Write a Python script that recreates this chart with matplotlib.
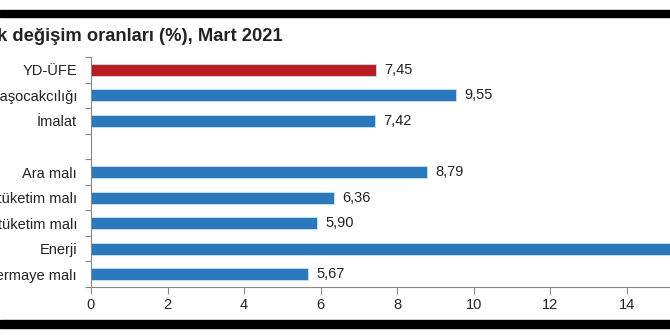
import numpy as np
import matplotlib
matplotlib.use("Agg")
import matplotlib.pyplot as plt
from matplotlib.patches import Rectangle

# data
categories = ["YD-ÜFE", "Madencilik ve taşocakcılığı", "İmalat", "",
              "Ara malı", "Dayanıklı tüketim malı", "Dayanıksız tüketim malı",
              "Enerji", "Sermaye malı"]
values = [7.45, 9.55, 7.42, np.nan, 8.79, 6.36, 5.90, 19.60, 5.67]
bar_colors = ["#B91C22", "#2C78BD", "#2C78BD", "#2C78BD", "#2C78BD",
              "#2C78BD", "#2C78BD", "#2C78BD", "#2C78BD"]
xticks = [0, 2, 4, 6, 8, 10, 12, 14, 16, 18, 20]
title = ("Sanayi sektörleri ve ana sanayi gruplarına göre YD-ÜFE yıllık "
         "değişim oranları (%), Mart 2021")

plt.rcParams['font.family'] = ['Liberation Sans', 'DejaVu Sans']

W, H = 670, 335
fig = plt.figure(figsize=(W / 100, H / 100), dpi=100)

# axes placed so that the left labels and the right end are cut off
px_per_unit = 38.26
x0 = 91
xmax = 20
ax = fig.add_axes([x0 / W, (H - 287) / H, xmax * px_per_unit / W, 230 / H])

y = np.arange(len(categories))
ax.barh(y, np.nan_to_num(values), height=0.47, color=bar_colors,
        edgecolor="#BFE3F5", linewidth=0.6)
for yi, v in zip(y, values):
    if np.isnan(v):
        continue
    ax.annotate(f"{v:.2f}".replace(".", ","), (v, yi), xytext=(6, 0),
                textcoords="offset points", va="center", ha="left",
                fontsize=10.5, color="#222222")

ax.set_ylim(len(categories) - 0.5, -0.5)
ax.set_xlim(0, xmax)
ax.set_yticks(y)
ax.set_yticklabels(categories, fontsize=10.5, color="#222222")
ax.set_yticks(np.arange(-0.5, len(categories)), minor=True)
ax.tick_params(axis="y", which="major", length=0, pad=10)
ax.tick_params(axis="y", which="minor", length=4, color="#888888", width=0.8)
ax.set_xticks(xticks)
ax.set_xticklabels([str(t) for t in xticks], fontsize=10.5, color="#222222")
ax.tick_params(axis="x", length=5, color="#888888", width=0.8, pad=3)
for s in ["top", "right"]:
    ax.spines[s].set_visible(False)
for s in ["left", "bottom"]:
    ax.spines[s].set_color("#888888")
    ax.spines[s].set_linewidth(0.8)

# title, cut at the left edge
fig.text(283 / W, 1 - 41 / H, title, ha="right", va="baseline",
         fontsize=13.2, fontweight="bold", color="#222222")

# black frame bands
fig.patches.append(Rectangle((0, 1 - 17 / H), 1, 7 / H, transform=fig.transFigure,
                             color="black", zorder=5))
fig.patches.append(Rectangle((0, 1 - 328 / H), 1, 8 / H, transform=fig.transFigure,
                             color="black", zorder=5))

fig.savefig("out.png", dpi=100)
